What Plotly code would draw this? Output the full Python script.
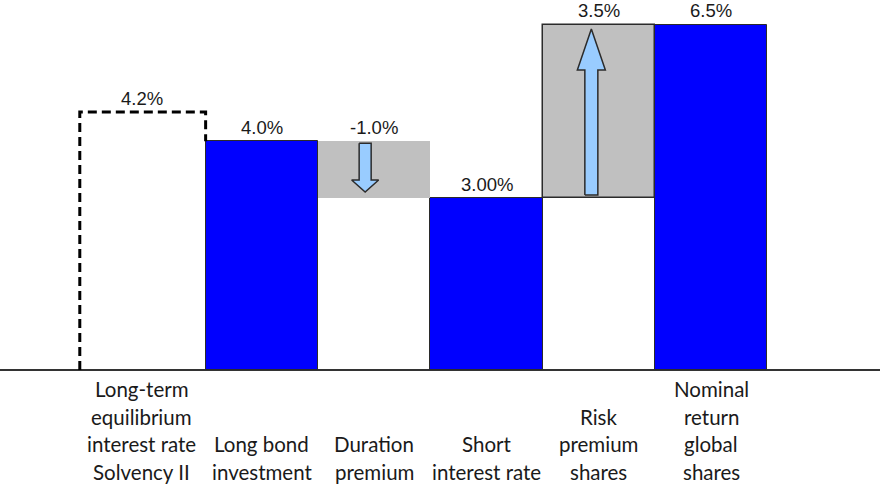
import plotly.graph_objects as go

# ---------------- data ----------------
category_lines = [
    ["Long-term", "equilibrium", "interest rate", "Solvency II"],
    ["Long bond", "investment"],
    ["Duration", "premium"],
    ["Short", "interest rate"],
    ["Risk", "premium", "shares"],
    ["Nominal", "return", "global", "shares"],
]
value_labels = ["4.2%", "4.0%", "-1.0%", "3.00%", "3.5%", "6.5%"]

# drawn levels of the (not-to-scale) original picture
solvency_level = 4.86
long_bond_level = 4.31
short_rate_level = 3.24
global_shares_level = 6.5

blue_x = [1, 3, 5]
blue_levels = [long_bond_level, short_rate_level, global_shares_level]

step_x = [2, 4]
step_base = [short_rate_level, short_rate_level]
step_top = [long_bond_level, global_shares_level]

# ---------------- geometry / style ----------------
W, H = 880, 484
PX_X = 112.35          # pixels per category
PX_Y = 53.08           # pixels per unit on y
X0_PX = 149.45         # pixel of category 0 centre
BASE_PX = 370          # pixel of y = 0

x_range = [-X0_PX / PX_X, (W - X0_PX) / PX_X]
y_range = [-(H - BASE_PX) / PX_Y, BASE_PX / PX_Y]

def py(px):  # pixel distance -> y units
    return px / PX_Y

def pxu(px):  # pixel distance -> x units
    return px / PX_X

BLUE = "#0000FF"
GREY = "#C0C0C0"
ARROW = "#99CCFF"
DARK = "#2b2b2b"

fig = go.Figure()

# blue bars
fig.add_trace(go.Bar(
    x=blue_x, y=blue_levels, width=1,
    marker=dict(color=BLUE, line=dict(color=DARK, width=1)),
    hoverinfo="skip", showlegend=False))

# grey floating steps
fig.add_trace(go.Bar(
    x=step_x, base=step_base,
    y=[t - b for t, b in zip(step_top, step_base)], width=1,
    marker=dict(color=GREY, line=dict(color=[GREY, DARK], width=[0, 1.5])),
    hoverinfo="skip", showlegend=False))

# dashed outline bar (Solvency II)
box_left = 0 - 0.62
box_right = 0.5
fig.add_trace(go.Scatter(
    x=[box_left, box_left, box_right, box_right],
    y=[0, solvency_level, solvency_level, long_bond_level],
    mode="lines", line=dict(color="black", width=3, dash="9px,5px"),
    hoverinfo="skip", showlegend=False))

# block arrows
def block_arrow(xc, y_start, y_tip, shaft_hw, head_hw, head_len):
    d = 1 if y_tip > y_start else -1
    y_head = y_tip - d * head_len
    xs = [xc - shaft_hw, xc - shaft_hw, xc - head_hw, xc, xc + head_hw,
          xc + shaft_hw, xc + shaft_hw, xc - shaft_hw]
    ys = [y_start, y_head, y_head, y_tip, y_head, y_head, y_start, y_start]
    return go.Scatter(x=xs, y=ys, mode="lines", fill="toself",
                      fillcolor=ARROW, line=dict(color=DARK, width=1.5),
                      hoverinfo="skip", showlegend=False)

# duration premium: down
fig.add_trace(block_arrow(step_x[0] - pxu(9), step_top[0] - py(2),
                          step_base[0] + py(6), pxu(6), pxu(13.5), py(12)))
# risk premium: up
fig.add_trace(block_arrow(step_x[1] - pxu(7.5), step_base[1] + py(3),
                          step_top[1] - py(4), pxu(6.5), pxu(14), py(41)))

# value labels
label_x = [(box_left + box_right) / 2 - 0.01, 1, 2, 3, 4, 5]
label_top = [solvency_level, long_bond_level, long_bond_level,
             short_rate_level, global_shares_level, global_shares_level]
for x, t, txt in zip(label_x, label_top, value_labels):
    fig.add_annotation(x=x, y=t + py(14), text=txt, showarrow=False,
                       xanchor="center", yanchor="middle",
                       font=dict(family="Liberation Sans, Arial", size=18.5,
                                 color="#1a1a1a"))

# category labels (bottom aligned, one annotation per line)
cat_x = [label_x[0], 1, 2, 3, 4, 5]
LINE0_PX = 472
LINE_STEP = 27.6
for x, lines in zip(cat_x, category_lines):
    n = len(lines)
    for i, line in enumerate(lines):
        j = n - 1 - i
        cy_px = LINE0_PX - LINE_STEP * j
        fig.add_annotation(x=x, y=-py(cy_px - BASE_PX), text=line,
                           showarrow=False, xanchor="center", yanchor="middle",
                           font=dict(family="Lato, Carlito, Calibri", size=20.5,
                                     color="#1a1a1a"))

fig.update_layout(
    width=W, height=H, margin=dict(l=0, r=0, t=0, b=0),
    paper_bgcolor="white", plot_bgcolor="white",
    barmode="overlay", bargap=0,
    xaxis=dict(range=x_range, showgrid=False, zeroline=False,
               showticklabels=False, showline=False, fixedrange=True),
    yaxis=dict(range=y_range, showgrid=False, zeroline=True,
               zerolinecolor="#333333", zerolinewidth=2,
               showticklabels=False, showline=False, fixedrange=True),
)

fig.write_html("out.html")
